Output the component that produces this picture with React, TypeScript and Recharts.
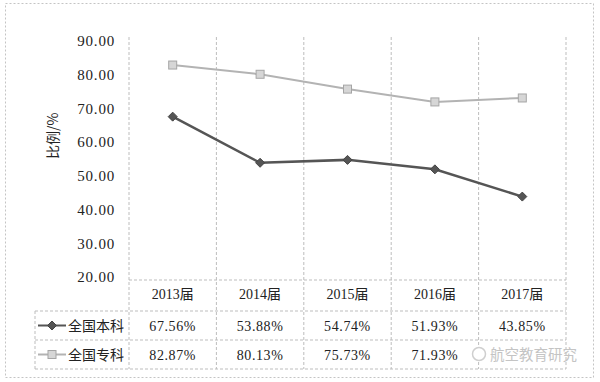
import { LineChart, Line, XAxis, YAxis } from "recharts";

const years = ["2013届", "2014届", "2015届", "2016届", "2017届"];
const benke = [67.56, 53.88, 54.74, 51.93, 43.85];
const zhuanke = [82.87, 80.13, 75.73, 71.93, 73.1];
const yTicks = [20, 30, 40, 50, 60, 70, 80, 90];

const series = [
  { key: "benke", name: "全国本科", values: benke, color: "#555", shape: "diamond" },
  { key: "zhuanke", name: "全国专科", values: zhuanke, color: "#b3b3b3", shape: "square" },
];

const data = years.map((year, i) => ({ year, benke: benke[i], zhuanke: zhuanke[i] }));

const W = 600;
const H = 382;
const plotLeft = 129;
const plotRight = 566;
const gridTop = 37;
const scaleTop = 41;
const scaleBottom = 277;
const rowLines = [280, 311, 340, 369];
const legendLeft = 35;
const colW = (plotRight - plotLeft) / years.length;

const numFont = "'Liberation Serif', 'Noto Sans CJK SC', serif";
const cjkFont = "'Noto Sans CJK SC', sans-serif";
const gridStroke = "#bdbdbd";

function Diamond(props: any) {
  const { cx, cy } = props;
  if (cx == null || cy == null) return null;
  const r = 4.5;
  return <path d={`M${cx},${cy - r}L${cx + r},${cy}L${cx},${cy + r}L${cx - r},${cy}Z`} fill="#555" stroke="#444" />;
}

function Square(props: any) {
  const { cx, cy } = props;
  if (cx == null || cy == null) return null;
  return <rect x={cx - 4} y={cy - 4} width={8} height={8} fill="#d6d6d6" stroke="#a5a5a5" />;
}

function Table() {
  const bounds = years.map((_, i) => plotLeft + i * colW).concat(plotRight);
  return (
    <svg width={W} height={H} style={{ position: "absolute", left: 0, top: 0 }}>
      <rect x={5.5} y={3.5} width={588} height={374} fill="#fff" stroke="#c4c4c4" strokeDasharray="2 2" />
      {bounds.map((x) => (
        <line key={x} x1={x} x2={x} y1={gridTop} y2={rowLines[3]} stroke={gridStroke} strokeDasharray="3 2" />
      ))}
      <line x1={legendLeft} x2={legendLeft} y1={rowLines[1]} y2={rowLines[3]} stroke={gridStroke} strokeDasharray="3 2" />
      <line x1={plotLeft} x2={plotRight} y1={rowLines[0]} y2={rowLines[0]} stroke={gridStroke} strokeDasharray="3 2" />
      {rowLines.slice(1).map((y) => (
        <line key={y} x1={legendLeft} x2={plotRight} y1={y} y2={y} stroke={gridStroke} strokeDasharray="3 2" />
      ))}
      {series.map((s, r) => {
        const cy = (rowLines[r + 1] + rowLines[r + 2]) / 2;
        return (
          <g key={s.key}>
            <line x1={38} x2={66} y1={cy} y2={cy} stroke={s.color} strokeWidth={2} />
            {s.shape === "diamond" ? <Diamond cx={52} cy={cy} /> : <Square cx={52} cy={cy} />}
            <text x={68} y={cy + 5} fontSize={14} fontFamily={cjkFont} fill="#222">
              {s.name}
            </text>
            {s.values.map((v, i) =>
              // the last 专科 cell is hidden under the watermark in the source image
              r === 1 && i === years.length - 1 ? null : (
                <text key={i} x={plotLeft + (i + 0.5) * colW} y={cy + 5} textAnchor="middle" fontSize={14} letterSpacing={0.6} fontFamily={numFont} fill="#222">
                  {v.toFixed(2)}%
                </text>
              )
            )}
          </g>
        );
      })}
      <g>
        <circle cx={479} cy={354} r={6.5} fill="#fff" stroke="#cfcfcf" strokeWidth={1.5} />
        <text x={490} y={360} fontSize={14.5} fontFamily={cjkFont} fill="#c4c4c4">
          航空教育研究
        </text>
      </g>
    </svg>
  );
}

export default function App() {
  return (
    <div style={{ position: "absolute", left: 0, top: 0, width: W, height: H, background: "#fff" }}>
      <Table />
      <div style={{ position: "absolute", left: 0, top: 0 }}>
        <LineChart width={W} height={H} data={data} margin={{ top: scaleTop, right: W - plotRight, bottom: H - scaleBottom - 30, left: plotLeft - 80 }}>
          <XAxis
            dataKey="year"
            height={30}
            padding={{ left: colW / 2, right: colW / 2 }}
            axisLine={false}
            tickLine={false}
            tickSize={0}
            tickMargin={12}
            tick={{ fontSize: 14, fill: "#222", fontFamily: numFont }}
          />
          <YAxis
            width={80}
            domain={[20, 90]}
            ticks={yTicks}
            interval={0}
            axisLine={false}
            tickLine={false}
            tickSize={0}
            tickMargin={14}
            tickFormatter={(v: number) => v.toFixed(2)}
            tick={{ fontSize: 15, fill: "#222", fontFamily: numFont, letterSpacing: 0.8 }}
            label={{ value: "比例/%", angle: -90, position: "insideLeft", offset: 0, dx: 4, style: { fontSize: 14, fill: "#222", fontFamily: cjkFont } }}
          />
          <Line dataKey="zhuanke" name="全国专科" stroke="#b3b3b3" strokeWidth={2} dot={<Square />} isAnimationActive={false} />
          <Line dataKey="benke" name="全国本科" stroke="#555" strokeWidth={2.5} dot={<Diamond />} isAnimationActive={false} />
        </LineChart>
      </div>
    </div>
  );
}
